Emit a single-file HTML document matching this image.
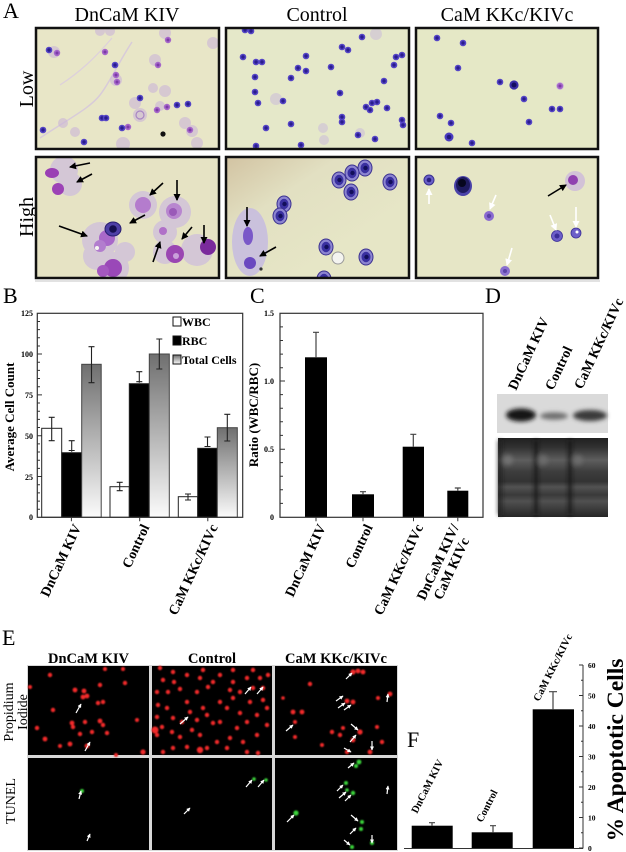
<!DOCTYPE html>
<html><head><meta charset="utf-8">
<style>
html,body{margin:0;padding:0;background:#fff;}
svg{display:block;}
text{font-family:"Liberation Serif","Times New Roman",serif;}
.b{font-weight:bold;}
</style></head><body>
<svg width="626" height="852" viewBox="0 0 626 852" xmlns="http://www.w3.org/2000/svg" xmlns:xlink="http://www.w3.org/1999/xlink">
<defs>
 <linearGradient id="tot" x1="0" y1="0" x2="0" y2="1"><stop offset="0" stop-color="#6f6f6f"/><stop offset="1" stop-color="#fbfbfb"/></linearGradient>
 <linearGradient id="ch" x1="0" y1="0" x2="0.7" y2="0.7"><stop offset="0" stop-color="#d2c3a2"/><stop offset="0.45" stop-color="#e2e0c2"/><stop offset="1" stop-color="#e6e6c6"/></linearGradient>
 <linearGradient id="blotb" x1="0" y1="0" x2="0" y2="1">
  <stop offset="0" stop-color="#202020"/><stop offset="0.12" stop-color="#323232"/>
  <stop offset="0.28" stop-color="#5e5e5e"/><stop offset="0.42" stop-color="#3e3e3e"/>
  <stop offset="0.55" stop-color="#333"/><stop offset="0.62" stop-color="#525252"/>
  <stop offset="0.72" stop-color="#3a3a3a"/><stop offset="0.8" stop-color="#505050"/>
  <stop offset="1" stop-color="#262626"/></linearGradient>
 <filter id="bl" x="-50%" y="-50%" width="200%" height="200%"><feGaussianBlur stdDeviation="2"/></filter>
 <filter id="bl1" x="-50%" y="-50%" width="200%" height="200%"><feGaussianBlur stdDeviation="0.8"/></filter>
 <marker id="ah" markerWidth="7" markerHeight="7" refX="6" refY="3.5" orient="auto" markerUnits="userSpaceOnUse"><path d="M0,0 L7,3.5 L0,7 z" fill="#000"/></marker>
 <marker id="aw" markerWidth="7" markerHeight="7" refX="6" refY="3.5" orient="auto" markerUnits="userSpaceOnUse"><path d="M0,0 L7,3.5 L0,7 z" fill="#fff"/></marker>
 <marker id="as" markerWidth="4" markerHeight="4" refX="3.5" refY="2" orient="auto" markerUnits="userSpaceOnUse"><path d="M0,0 L4,2 L0,4 z" fill="#fff"/></marker>
 <g id="bc"><circle r="3.3" fill="#5444c6"/><circle r="1.7" fill="#2a1d8e"/></g>
 <g id="pc"><circle r="3.2" fill="#a566c9"/><circle r="1.5" fill="#7c3aa8"/></g>
 <g id="rbc"><ellipse rx="7" ry="8" fill="#8c84d0" stroke="#3a3090" stroke-width="1"/><ellipse rx="4.5" ry="5.2" fill="#3a30a0"/><circle r="2.2" cx="0.5" fill="#120e5a"/></g>
 <clipPath id="c1"><rect x="36" y="28" width="183" height="121"/></clipPath>
 <clipPath id="c2"><rect x="226" y="28" width="183" height="121"/></clipPath>
 <clipPath id="c3"><rect x="416" y="28" width="182" height="121"/></clipPath>
 <clipPath id="c4"><rect x="36" y="157" width="183" height="121"/></clipPath>
 <clipPath id="c5"><rect x="226" y="157" width="183" height="121"/></clipPath>
 <clipPath id="c6"><rect x="416" y="157" width="182" height="121"/></clipPath>
</defs>
<rect width="626" height="852" fill="#fff"/>

<!-- ================= A ================= -->
<text x="3" y="18" font-size="22">A</text>
<text x="127" y="21" font-size="20" text-anchor="middle">DnCaM KIV</text>
<text x="317" y="21" font-size="20" text-anchor="middle">Control</text>
<text x="507" y="21" font-size="20" text-anchor="middle">CaM KKc/KIVc</text>
<text transform="translate(33,89) rotate(-90)" font-size="20" text-anchor="middle">Low</text>
<text transform="translate(33,217) rotate(-90)" font-size="20" text-anchor="middle">High</text>

<!-- Panel 1 low -->
<g clip-path="url(#c1)">
 <rect x="36" y="28" width="183" height="121" fill="#e8e6c7"/>
 <path d="M40,138 C70,118 90,108 100,95 S120,60 132,42" stroke="#d8cbd9" stroke-width="1.5" fill="none"/>
 <path d="M60,85 C80,72 95,58 112,38" stroke="#ddd0dc" stroke-width="1.2" fill="none"/>
 <g fill="#cbb5d8" opacity="0.6">
  <circle cx="54" cy="52" r="6"/><circle cx="100" cy="31" r="5"/><circle cx="110" cy="31" r="5"/>
  <circle cx="165" cy="33" r="6"/><circle cx="213" cy="43" r="6"/><circle cx="155" cy="60" r="6"/>
  <circle cx="153" cy="88" r="5"/><circle cx="165" cy="91" r="6"/><circle cx="135" cy="103" r="6"/>
  <circle cx="140" cy="115" r="7"/><circle cx="63" cy="123" r="5"/><circle cx="185" cy="123" r="6"/>
  <circle cx="192" cy="131" r="6"/><circle cx="197" cy="143" r="6"/><circle cx="123" cy="144" r="7"/>
  <circle cx="116" cy="80" r="6"/><circle cx="160" cy="106" r="5"/><circle cx="75" cy="132" r="5"/>
 </g>
 <circle cx="140" cy="115" r="4" fill="none" stroke="#a886c4" stroke-width="1.2"/>
 <use xlink:href="#pc" x="168" y="40"/><use xlink:href="#pc" x="158" y="65"/><use xlink:href="#pc" x="116" y="75"/>
 <use xlink:href="#pc" x="117" y="82"/><use xlink:href="#pc" x="105" y="52"/><use xlink:href="#pc" x="157" y="110"/>
 <use xlink:href="#pc" x="167" y="107"/><use xlink:href="#pc" x="128" y="127"/><use xlink:href="#pc" x="190" y="130"/>
 <use xlink:href="#pc" x="57" y="53"/>
 <use xlink:href="#bc" x="49" y="50"/><use xlink:href="#bc" x="140" y="98"/><use xlink:href="#bc" x="102" y="118"/>
 <use xlink:href="#bc" x="43" y="130"/><use xlink:href="#bc" x="84" y="142"/><use xlink:href="#bc" x="122" y="128"/>
 <use xlink:href="#bc" x="177" y="105"/><use xlink:href="#bc" x="188" y="104"/><use xlink:href="#bc" x="115" y="65"/>
 <use xlink:href="#bc" x="106" y="118"/>
 <circle cx="163" cy="134" r="2.6" fill="#111"/>
</g>
<rect x="36" y="28" width="183" height="121" fill="none" stroke="#111" stroke-width="2.5"/>

<!-- Panel 2 low -->
<g clip-path="url(#c2)">
 <rect x="226" y="28" width="183" height="121" fill="#e5e8c9"/>
 <g fill="#cdbfd8" opacity="0.6"><circle cx="376" cy="34" r="6"/><circle cx="276" cy="99" r="6"/><circle cx="323" cy="128" r="5"/><circle cx="324" cy="140" r="5"/><circle cx="360" cy="133" r="5"/></g>
 <use xlink:href="#bc" x="251" y="31"/><use xlink:href="#bc" x="245" y="30"/><use xlink:href="#bc" x="243" y="57"/>
 <use xlink:href="#bc" x="256" y="62"/><use xlink:href="#bc" x="262" y="62"/><use xlink:href="#bc" x="306" y="56"/>
 <use xlink:href="#bc" x="298" y="68"/><use xlink:href="#bc" x="306" y="71"/><use xlink:href="#bc" x="291" y="78"/>
 <use xlink:href="#bc" x="255" y="77"/><use xlink:href="#bc" x="255" y="92"/><use xlink:href="#bc" x="258" y="103"/>
 <use xlink:href="#bc" x="283" y="101"/><use xlink:href="#bc" x="342" y="47"/><use xlink:href="#bc" x="348" y="50"/>
 <use xlink:href="#bc" x="362" y="37"/><use xlink:href="#bc" x="331" y="67"/><use xlink:href="#bc" x="340" y="93"/>
 <use xlink:href="#bc" x="384" y="81"/><use xlink:href="#bc" x="396" y="57"/><use xlink:href="#bc" x="402" y="55"/>
 <use xlink:href="#bc" x="394" y="65"/><use xlink:href="#bc" x="366" y="107"/><use xlink:href="#bc" x="372" y="103"/>
 <use xlink:href="#bc" x="377" y="102"/><use xlink:href="#bc" x="370" y="110"/><use xlink:href="#bc" x="387" y="108"/>
 <use xlink:href="#bc" x="342" y="117"/><use xlink:href="#bc" x="342" y="122"/><use xlink:href="#bc" x="291" y="124"/>
 <use xlink:href="#bc" x="266" y="128"/><use xlink:href="#bc" x="402" y="120"/><use xlink:href="#bc" x="403" y="125"/>
 <use xlink:href="#bc" x="358" y="135"/><use xlink:href="#bc" x="375" y="139"/><use xlink:href="#bc" x="301" y="145"/>
 <use xlink:href="#bc" x="256" y="146"/>
</g>
<rect x="226" y="28" width="183" height="121" fill="none" stroke="#111" stroke-width="2.5"/>

<!-- Panel 3 low -->
<g clip-path="url(#c3)">
 <rect x="416" y="28" width="182" height="121" fill="#e5e8c6"/>
 <circle cx="560" cy="86" r="4" fill="#cdb7da" opacity="0.7"/>
 <use xlink:href="#bc" x="437" y="38"/><use xlink:href="#bc" x="463" y="43"/><use xlink:href="#bc" x="458" y="68"/>
 <use xlink:href="#bc" x="500" y="82"/><use xlink:href="#bc" x="524" y="99"/><use xlink:href="#bc" x="552" y="109"/>
 <use xlink:href="#bc" x="560" y="109"/><use xlink:href="#bc" x="529" y="122"/><use xlink:href="#bc" x="440" y="116"/>
 <use xlink:href="#bc" x="451" y="123"/><use xlink:href="#bc" x="472" y="143"/><use xlink:href="#pc" x="560" y="86"/>
 <circle cx="514" cy="85" r="4.6" fill="#3a2ea8"/><circle cx="514" cy="85" r="2.5" fill="#140e60"/>
 <circle cx="449" cy="137" r="4.5" fill="#4a3cc0"/><circle cx="449" cy="137" r="2.3" fill="#22187e"/>
</g>
<rect x="416" y="28" width="182" height="121" fill="none" stroke="#111" stroke-width="2.5"/>

<!-- Panel 1 high -->
<g clip-path="url(#c4)">
 <rect x="36" y="157" width="183" height="121" fill="#e6e3c4"/>
 <g fill="#cebedc" opacity="0.75">
  <circle cx="64" cy="170" r="14"/><circle cx="70" cy="184" r="12"/><circle cx="143" cy="205" r="14"/>
  <circle cx="175" cy="212" r="16"/><circle cx="100" cy="240" r="18"/><circle cx="97" cy="256" r="14"/>
  <circle cx="197" cy="250" r="16"/><circle cx="165" cy="232" r="12"/><circle cx="113" cy="268" r="16"/>
  <circle cx="125" cy="252" r="10"/><circle cx="165" cy="252" r="12"/>
 </g>
 <ellipse cx="52" cy="173" rx="7" ry="5" fill="#9a3fb4"/>
 <circle cx="58" cy="189" r="6" fill="#9c42b6"/>
 <circle cx="143" cy="205" r="8" fill="#b47ccd"/>
 <circle cx="174" cy="211" r="8" fill="#b886cf"/><circle cx="173" cy="212" r="4" fill="#9a5ab8"/>
 <circle cx="107" cy="238" r="8" fill="#a868c9"/><circle cx="100" cy="246" r="6" fill="#b27dce"/>
 <circle cx="163" cy="231" r="4" fill="#b070c8"/>
 <circle cx="175" cy="254" r="9" fill="#9a46b2"/><circle cx="176" cy="256" r="3" fill="#c9a0da"/>
 <circle cx="208" cy="247" r="8" fill="#7a2a9c"/>
 <circle cx="113" cy="268" r="9" fill="#9a48b8"/><circle cx="103" cy="271" r="6" fill="#a458c0"/>
 <ellipse cx="113" cy="229" rx="8" ry="7" fill="#4e3ea6" stroke="#281c70" stroke-width="1"/>
 <circle cx="113" cy="229" r="3.8" fill="#160e50"/>
 <circle cx="97" cy="248" r="2" fill="#f6f6f2"/>
 <g stroke="#000" stroke-width="1.6" marker-end="url(#ah)">
  <line x1="90" y1="163" x2="70" y2="167"/><line x1="92" y1="174" x2="77" y2="182"/>
  <line x1="163" y1="183" x2="150" y2="195"/><line x1="177" y1="180" x2="177" y2="200"/>
  <line x1="145" y1="215" x2="130" y2="223"/><line x1="59" y1="226" x2="87" y2="236"/>
  <line x1="153" y1="262" x2="160" y2="242"/><line x1="192" y1="227" x2="182" y2="239"/>
  <line x1="204" y1="225" x2="204" y2="243"/>
 </g>
</g>
<rect x="36" y="157" width="183" height="121" fill="none" stroke="#111" stroke-width="2.5"/>

<!-- Panel 2 high -->
<g clip-path="url(#c5)">
 <rect x="226" y="157" width="183" height="121" fill="url(#ch)"/>
 <ellipse cx="250" cy="242" rx="18" ry="34" fill="#c6bbe0" opacity="0.85"/>
 <ellipse cx="248" cy="236" rx="5" ry="9" fill="#7a58c8"/>
 <circle cx="250" cy="263" r="6" fill="#6a48c0"/>
 <use xlink:href="#rbc" x="339" y="180"/><use xlink:href="#rbc" x="365" y="168"/><use xlink:href="#rbc" x="352" y="173"/>
 <use xlink:href="#rbc" x="351" y="192"/><use xlink:href="#rbc" x="390" y="182"/><use xlink:href="#rbc" x="284" y="204"/>
 <use xlink:href="#rbc" x="280" y="216"/><use xlink:href="#rbc" x="326" y="247"/><use xlink:href="#rbc" x="366" y="257"/>
 <use xlink:href="#rbc" x="324" y="279"/>
 <circle cx="338" cy="258" r="6" fill="#f4f4f0" stroke="#9a9a9a" stroke-width="1"/>
 <circle cx="261" cy="269" r="1.6" fill="#333"/>
 <g stroke="#000" stroke-width="1.6" marker-end="url(#ah)">
  <line x1="247" y1="207" x2="247" y2="226"/><line x1="276" y1="247" x2="260" y2="256"/>
 </g>
</g>
<rect x="226" y="157" width="183" height="121" fill="none" stroke="#111" stroke-width="2.5"/>

<!-- Panel 3 high -->
<g clip-path="url(#c6)">
 <rect x="416" y="157" width="182" height="121" fill="#e6e6c6"/>
 <circle cx="575" cy="181" r="10" fill="#cbb6dc" opacity="0.75"/>
 <circle cx="573" cy="180" r="5" fill="#9040b0"/>
 <circle cx="429" cy="180" r="5" fill="#6a60c8" stroke="#3a3090" stroke-width="1"/><circle cx="429" cy="180" r="2.3" fill="#2a2080"/>
 <ellipse cx="463" cy="186" rx="9" ry="10" fill="#4a42a8"/><ellipse cx="463" cy="185" rx="7" ry="8" fill="#1e1a5e"/><circle cx="462" cy="183" r="4" fill="#06061e"/>
 <circle cx="489" cy="216" r="5" fill="#8a6ad0"/><circle cx="489" cy="216" r="2.2" fill="#5a40a8"/>
 <circle cx="557" cy="236" r="5.5" fill="#6d5fc8" stroke="#3a2e98" stroke-width="0.8"/><circle cx="557" cy="236" r="2.5" fill="#3a2e98"/>
 <circle cx="576" cy="233" r="5" fill="#6d5fc8" stroke="#3a2e98" stroke-width="0.8"/><circle cx="577" cy="232" r="1.5" fill="#fff"/>
 <circle cx="505" cy="271" r="5" fill="#8a70d0"/><circle cx="505" cy="271" r="2" fill="#5a44a8"/>
 <line x1="548" y1="196" x2="566" y2="185" stroke="#000" stroke-width="1.6" marker-end="url(#ah)"/>
 <g stroke="#fff" stroke-width="1.6" marker-end="url(#aw)">
  <line x1="429" y1="204" x2="429" y2="189"/><line x1="496" y1="195" x2="490" y2="209"/>
  <line x1="550" y1="215" x2="556" y2="230"/><line x1="576" y1="207" x2="576" y2="227"/>
  <line x1="512" y1="248" x2="507" y2="265"/>
 </g>
</g>
<rect x="416" y="157" width="182" height="121" fill="none" stroke="#111" stroke-width="2.5"/>
<line x1="35" y1="281" x2="600" y2="281" stroke="#e2e2e2" stroke-width="2"/>

<!-- ================= B ================= -->
<text x="3" y="303" font-size="22">B</text>
<g stroke="#333" stroke-width="1">
 <path d="M37,321.5h3M37,329.6h3M37,337.8h3M37,346h3M37,362.2h3M37,370.4h3M37,378.5h3M37,386.7h3M37,403h3M37,411.2h3M37,419.4h3M37,427.5h3M37,443.9h3M37,452h3M37,460.2h3M37,468.4h3M37,484.7h3M37,492.9h3M37,501.1h3M37,509.2h3" fill="none"/>
 <path d="M37,354h5M37,394.9h5M37,435.7h5M37,476.5h5" fill="none"/>
 <path d="M71.4,517.3v4M139.7,517.3v4M207.8,517.3v4" fill="none"/>
</g>
<g class="b" font-size="8" text-anchor="end">
 <text x="33" y="316">125</text><text x="33" y="357">100</text><text x="33" y="398">75</text>
 <text x="33" y="439">50</text><text x="33" y="480">25</text><text x="33" y="520">0</text>
</g>
<text class="b" transform="translate(14,417) rotate(-90)" font-size="13" text-anchor="middle">Average Cell Count</text>
<g stroke="#222" stroke-width="1">
 <rect x="41.7" y="428.3" width="20" height="89" fill="#fff"/>
 <rect x="61.7" y="452.7" width="20" height="64.6" fill="#000"/>
 <rect x="81.7" y="364.3" width="19.5" height="153" fill="url(#tot)" stroke="#444"/>
 <rect x="110" y="486.7" width="19.3" height="30.6" fill="#fff"/>
 <rect x="129.3" y="383.7" width="20" height="133.6" fill="#000"/>
 <rect x="149.3" y="354" width="20" height="163.3" fill="url(#tot)" stroke="#444"/>
 <rect x="178.3" y="496.7" width="19.4" height="20.6" fill="#fff"/>
 <rect x="197.7" y="448.3" width="19.6" height="69" fill="#000"/>
 <rect x="217.3" y="427.7" width="20" height="89.6" fill="url(#tot)" stroke="#444"/>
</g>
<g stroke="#222" stroke-width="1.1" fill="none">
 <path d="M51.7,417.3v23.4M48.7,417.3h6M48.7,440.7h6"/>
 <path d="M71.7,440.7v11M68.7,440.7h6M68.7,450.5h6"/>
 <path d="M91.5,346.7v36M88.5,346.7h6M88.5,382.7h6"/>
 <path d="M119.7,482.3v8.4M116.7,482.3h6M116.7,490.7h6"/>
 <path d="M139.3,371.7v11M136.3,371.7h6M136.3,381.7h6"/>
 <path d="M159.3,339v30M156.3,339h6M156.3,369h6"/>
 <path d="M188,494v6M185,494h6M185,500h6"/>
 <path d="M207.5,437v10M204.5,437h6M204.5,446.5h6"/>
 <path d="M227.3,414.3v26.7M224.3,414.3h6M224.3,441h6"/>
</g>
<rect x="37.3" y="313.3" width="205.4" height="204" fill="none" stroke="#333" stroke-width="1.2"/>
<rect x="173" y="317" width="8" height="9" fill="#fff" stroke="#111" stroke-width="1"/>
<rect x="173" y="336" width="8" height="9" fill="#000" stroke="#111" stroke-width="1"/>
<rect x="173" y="355" width="8" height="9" fill="url(#tot)" stroke="#111" stroke-width="1"/>
<g class="b" font-size="12">
 <text x="182" y="326">WBC</text><text x="182" y="345">RBC</text><text x="182" y="364">Total Cells</text>
</g>
<g class="b" font-size="14" text-anchor="end">
 <text transform="translate(81.4,527) rotate(-65)">DnCaM KIV</text>
 <text transform="translate(149.7,527) rotate(-65)">Control</text>
 <text transform="translate(218,527) rotate(-65)">CaM KKc/KIVc</text>
</g>

<!-- ================= C ================= -->
<text x="250" y="303" font-size="22">C</text>
<g stroke="#333" stroke-width="1" fill="none">
 <path d="M280,326.9h3M280,340.5h3M280,354.1h3M280,367.7h3M280,394.6h3M280,408.2h3M280,421.8h3M280,435.4h3M280,462.6h3M280,476.2h3M280,489.8h3M280,503.4h3"/>
 <path d="M280,381h5M280,449.3h5"/>
 <path d="M316,517.3v4M363,517.3v4M413.5,517.3v4M457.8,517.3v4"/>
</g>
<g class="b" font-size="8" text-anchor="end">
 <text x="274" y="316">1.5</text><text x="274" y="384">1.0</text><text x="274" y="452">0.5</text><text x="274" y="520">0</text>
</g>
<text class="b" transform="translate(258,415) rotate(-90)" font-size="13" text-anchor="middle">Ratio (WBC/RBC)</text>
<g fill="#000">
 <rect x="305" y="357.3" width="22" height="160"/>
 <rect x="352" y="494.3" width="22" height="23"/>
 <rect x="402.7" y="446.7" width="21.3" height="70.6"/>
 <rect x="447.3" y="490.7" width="21" height="26.6"/>
</g>
<g stroke="#444" stroke-width="1.2" fill="none">
 <path d="M316,357.3V332.3M313,332.3h6"/>
 <path d="M363,494.3v-2.6M360,491.7h6"/>
 <path d="M413.3,446.7V434.3M410.3,434.3h6"/>
 <path d="M457.8,490.7v-2.7M454.8,488h6"/>
</g>
<rect x="280" y="313.3" width="203" height="204" fill="none" stroke="#333" stroke-width="1.2"/>
<g class="b" font-size="14" text-anchor="end">
 <text transform="translate(326,527) rotate(-65)">DnCaM KIV</text>
 <text transform="translate(373,527) rotate(-65)">Control</text>
 <text transform="translate(423.5,527) rotate(-65)">CaM KKc/KIVc</text>
</g>
<g class="b" font-size="14" text-anchor="middle">
 <text transform="translate(442,564) rotate(-65)">DnCaM KIV/</text>
 <text transform="translate(455.5,570.5) rotate(-65)">CaM KIVc</text>
</g>

<!-- ================= D ================= -->
<text x="485" y="303" font-size="22">D</text>
<g class="b" font-size="14">
 <text transform="translate(516,391) rotate(-65)">DnCaM KIV</text>
 <text transform="translate(553,391) rotate(-65)">Control</text>
 <text transform="translate(582,390) rotate(-65)">CaM KKc/KIVc</text>
</g>
<rect x="497" y="394" width="111" height="39" fill="#dadada"/>
<g filter="url(#bl)">
 <ellipse cx="521" cy="415" rx="15" ry="6.5" fill="#141414"/>
 <ellipse cx="554" cy="416" rx="14" ry="3.8" fill="#707070"/>
 <ellipse cx="590" cy="415.5" rx="17" ry="5.5" fill="#3a3a3a"/>
</g>
<rect x="498" y="438" width="110" height="79" fill="url(#blotb)"/>
<g filter="url(#bl)" opacity="0.85">
 <rect x="534" y="440" width="4" height="75" fill="#141414"/>
 <rect x="568" y="440" width="4" height="75" fill="#141414"/>
 <rect x="498" y="440" width="4" height="75" fill="#1a1a1a"/>
 <ellipse cx="508" cy="460" rx="5" ry="5" fill="#767676"/>
 <ellipse cx="543" cy="460" rx="5" ry="5" fill="#6e6e6e"/>
 <ellipse cx="578" cy="460" rx="5" ry="5" fill="#6e6e6e"/>
</g>

<!-- ================= E ================= -->
<text x="2" y="645" font-size="22">E</text>
<g class="b" font-size="14.5" text-anchor="middle">
 <text x="88.5" y="663">DnCaM KIV</text><text x="212" y="663">Control</text><text x="336" y="663">CaM KKc/KIVc</text>
</g>
<text transform="translate(13,712) rotate(-90)" font-size="14" text-anchor="middle">Propidium</text>
<text transform="translate(27,712) rotate(-90)" font-size="14" text-anchor="middle">Iodide</text>
<text transform="translate(15,801) rotate(-90)" font-size="14" text-anchor="middle">TUNEL</text>
<rect x="27" y="665" width="371" height="186" fill="#d8d8d8"/>
<g fill="#000">
 <rect x="28" y="666" width="121" height="89"/><rect x="152" y="666" width="120" height="89"/><rect x="275" y="666" width="122" height="89"/>
 <rect x="28" y="758" width="121" height="92"/><rect x="152" y="758" width="120" height="92"/><rect x="275" y="758" width="122" height="92"/>
</g>
<g fill="#f22a2a" filter="url(#bl1)">
 <circle cx="50" cy="675" r="2.2"/><circle cx="105" cy="669" r="2"/><circle cx="123" cy="669" r="2"/>
 <circle cx="75" cy="690" r="2.4"/><circle cx="84" cy="691" r="2.4"/><circle cx="100" cy="685" r="2.2"/>
 <circle cx="125" cy="683" r="2.2"/><circle cx="83" cy="697" r="2.4"/><circle cx="87" cy="696" r="2.4"/>
 <circle cx="98" cy="703" r="2.2"/><circle cx="103" cy="702" r="2.2"/><circle cx="53" cy="710" r="2.2"/>
 <circle cx="72" cy="723" r="2.4"/><circle cx="73" cy="727" r="2.2"/><circle cx="85" cy="722" r="2.2"/>
 <circle cx="100" cy="721" r="2.4"/><circle cx="103" cy="725" r="2.2"/><circle cx="137" cy="720" r="2"/>
 <circle cx="37" cy="728" r="2.2"/><circle cx="45" cy="739" r="2.4"/><circle cx="80" cy="734" r="2.2"/>
 <circle cx="92" cy="732" r="2.2"/><circle cx="107" cy="733" r="2.2"/><circle cx="70" cy="744" r="2.4"/>
 <circle cx="87" cy="746" r="2.4"/><circle cx="143" cy="752" r="2.6"/><circle cx="116" cy="755" r="2"/>
 <circle cx="30" cy="687" r="2"/><circle cx="60" cy="746" r="2"/>
 <circle cx="163" cy="680" r="2.2"/><circle cx="174" cy="682" r="2.2"/><circle cx="157" cy="692" r="2.2"/>
 <circle cx="168" cy="692" r="2.2"/><circle cx="180" cy="689" r="2.2"/><circle cx="200" cy="678" r="2.2"/>
 <circle cx="208" cy="687" r="2.2"/><circle cx="197" cy="692" r="2.2"/><circle cx="187" cy="702" r="2.2"/>
 <circle cx="158" cy="705" r="2.2"/><circle cx="167" cy="708" r="2.2"/><circle cx="173" cy="718" r="2.2"/>
 <circle cx="162" cy="727" r="2.2"/><circle cx="172" cy="732" r="2.2"/><circle cx="157" cy="735" r="2.2"/>
 <circle cx="155" cy="730" r="3.5"/><circle cx="180" cy="737" r="2.2"/><circle cx="192" cy="730" r="2.2"/>
 <circle cx="200" cy="735" r="2.2"/><circle cx="213" cy="723" r="2.2"/><circle cx="207" cy="715" r="2.2"/>
 <circle cx="220" cy="702" r="2.2"/><circle cx="227" cy="708" r="2.2"/><circle cx="233" cy="698" r="2.2"/>
 <circle cx="240" cy="692" r="2.2"/><circle cx="253" cy="688" r="2.2"/><circle cx="263" cy="688" r="2.2"/>
 <circle cx="233" cy="682" r="2.2"/><circle cx="247" cy="678" r="2.2"/><circle cx="260" cy="678" r="2.2"/>
 <circle cx="268" cy="675" r="2.2"/><circle cx="220" cy="675" r="2.2"/><circle cx="213" cy="682" r="2.2"/>
 <circle cx="187" cy="675" r="2.2"/><circle cx="173" cy="672" r="2.2"/><circle cx="160" cy="668" r="2.2"/>
 <circle cx="203" cy="670" r="2.2"/><circle cx="233" cy="670" r="2.2"/><circle cx="253" cy="670" r="2.2"/>
 <circle cx="267" cy="708" r="2.2"/><circle cx="257" cy="715" r="2.2"/><circle cx="247" cy="722" r="2.2"/>
 <circle cx="237" cy="728" r="2.2"/><circle cx="230" cy="738" r="2.2"/><circle cx="243" cy="742" r="2.2"/>
 <circle cx="257" cy="735" r="2.2"/><circle cx="267" cy="725" r="2.2"/><circle cx="217" cy="742" r="2.2"/>
 <circle cx="207" cy="748" r="2.2"/><circle cx="227" cy="748" r="2.2"/><circle cx="200" cy="750" r="3.2"/>
 <circle cx="187" cy="747" r="2.2"/><circle cx="173" cy="748" r="2.2"/><circle cx="163" cy="752" r="2.2"/>
 <circle cx="247" cy="752" r="2.2"/><circle cx="258" cy="753" r="2.2"/><circle cx="157" cy="717" r="2.2"/>
 <circle cx="182" cy="722" r="2.2"/><circle cx="197" cy="720" r="2.2"/><circle cx="240" cy="713" r="2.2"/>
 <circle cx="220" cy="722" r="2.2"/><circle cx="203" cy="708" r="2.2"/><circle cx="250" cy="702" r="2.2"/>
 <circle cx="263" cy="700" r="2.2"/><circle cx="190" cy="712" r="2.2"/><circle cx="230" cy="690" r="2.2"/>
 <circle cx="353" cy="672" r="2.6"/><circle cx="358" cy="671" r="2.4"/><circle cx="363" cy="672" r="2.4"/>
 <circle cx="310" cy="684" r="2.2"/><circle cx="347" cy="701" r="2.4"/><circle cx="353" cy="702" r="2.4"/>
 <circle cx="390" cy="694" r="2.4"/><circle cx="378" cy="698" r="2"/><circle cx="293" cy="712" r="2.4"/>
 <circle cx="302" cy="712" r="2.4"/><circle cx="295" cy="722" r="2"/><circle cx="360" cy="732" r="2.6"/>
 <circle cx="343" cy="728" r="2"/><circle cx="332" cy="732" r="2.2"/><circle cx="340" cy="735" r="2.2"/>
 <circle cx="377" cy="727" r="2"/><circle cx="382" cy="742" r="2.2"/><circle cx="295" cy="737" r="2"/>
 <circle cx="353" cy="740" r="2.4"/><circle cx="347" cy="752" r="2.2"/><circle cx="370" cy="752" r="2.4"/>
 <circle cx="322" cy="745" r="2"/><circle cx="283" cy="698" r="1.8"/>
</g>
<g fill="#3ad23a" filter="url(#bl1)">
 <circle cx="82" cy="791" r="2"/><circle cx="254" cy="779" r="1.8"/><circle cx="266" cy="780" r="1.8"/>
 <circle cx="359" cy="762" r="2.4"/><circle cx="356" cy="766" r="2"/><circle cx="346" cy="783" r="2"/>
 <circle cx="353" cy="793" r="2.2"/><circle cx="347" cy="790" r="1.8"/><circle cx="296" cy="813" r="2.6"/>
 <circle cx="362" cy="822" r="2"/><circle cx="361" cy="829" r="2"/><circle cx="352" cy="847" r="2"/>
 <circle cx="372" cy="843" r="2"/>
</g>
<g stroke="#fff" stroke-width="1.2" marker-end="url(#as)">
 <line x1="76" y1="713" x2="81" y2="704"/><line x1="85" y1="751" x2="90" y2="742"/>
 <line x1="180" y1="724" x2="188" y2="717"/><line x1="245" y1="694" x2="251" y2="687"/><line x1="257" y1="694" x2="263" y2="687"/>
 <line x1="346" y1="679" x2="352" y2="673"/><line x1="336" y1="701" x2="343" y2="696"/><line x1="338" y1="708" x2="345" y2="703"/>
 <line x1="344" y1="710" x2="351" y2="705"/><line x1="387" y1="702" x2="388" y2="694"/><line x1="286" y1="731" x2="293" y2="725"/>
 <line x1="351" y1="724" x2="358" y2="730"/><line x1="350" y1="742" x2="356" y2="735"/><line x1="344" y1="748" x2="351" y2="752"/>
 <line x1="372" y1="741" x2="372" y2="750"/>
 <line x1="79" y1="799" x2="81" y2="791"/><line x1="87" y1="841" x2="90" y2="834"/>
 <line x1="184" y1="814" x2="190" y2="808"/><line x1="246" y1="787" x2="252" y2="780"/><line x1="258" y1="787" x2="264" y2="780"/>
 <line x1="348" y1="768" x2="354" y2="763"/><line x1="337" y1="791" x2="343" y2="785"/><line x1="339" y1="798" x2="346" y2="792"/>
 <line x1="345" y1="801" x2="351" y2="795"/><line x1="387" y1="794" x2="388" y2="786"/><line x1="287" y1="822" x2="294" y2="815"/>
 <line x1="351" y1="815" x2="358" y2="821"/><line x1="350" y1="834" x2="356" y2="828"/><line x1="344" y1="840" x2="350" y2="845"/>
 <line x1="372" y1="835" x2="372" y2="843"/>
</g>

<!-- ================= F ================= -->
<text x="407" y="747" font-size="22">F</text>
<g fill="#000">
 <rect x="411.7" y="825.7" width="41" height="22.8"/>
 <rect x="471.7" y="832.3" width="41" height="16.2"/>
 <rect x="532.7" y="709.3" width="41.3" height="139.2"/>
</g>
<g stroke="#444" stroke-width="1.2" fill="none">
 <path d="M432,825.7v-3M429,822.7h6"/>
 <path d="M493,832.3v-6.6M490,825.7h6"/>
 <path d="M553,709.3V691.7M549,691.7h8"/>
</g>
<g stroke="#333" stroke-width="1" fill="none">
 <path d="M583,665V848.5M404,848.5H583"/>
 <path d="M579,665h4M579,695.5h4M579,726h4M579,756.5h4M579,787h4M579,817.5h4M579,848h4"/>
 <path d="M581,680.3h2M581,710.8h2M581,741.3h2M581,771.8h2M581,802.3h2M581,832.8h2"/>
</g>
<g class="b" font-size="7.5">
 <text x="588" y="668">60</text><text x="588" y="698.5">50</text><text x="588" y="729">40</text>
 <text x="588" y="759.5">30</text><text x="588" y="790">20</text><text x="588" y="820.5">10</text><text x="588" y="851">0</text>
</g>
<text class="b" transform="translate(623,750) rotate(-90)" font-size="23.5" text-anchor="middle">% Apoptotic Cells</text>
<g class="b" font-size="10.5">
 <text transform="translate(417,814) rotate(-63)">DnCaM KIV</text>
 <text transform="translate(482,823) rotate(-63)">Control</text>
 <text transform="translate(539,702) rotate(-63)">CaM KKc/KIVc</text>
</g>
</svg>
</body></html>
